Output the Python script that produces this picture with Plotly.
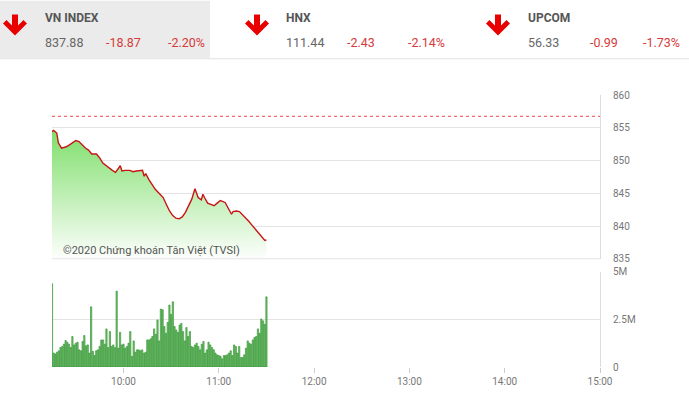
import plotly.graph_objects as go
from plotly.subplots import make_subplots
import pandas as pd

DAY = "2020-01-01 "

# ---------------- data ----------------
line_times = ["09:15", "09:16", "09:18", "09:19", "09:21", "09:24", "09:26", "09:28", "09:30",
              "09:32", "09:34", "09:36", "09:38", "09:40", "09:43", "09:45", "09:47", "09:49",
              "09:51", "09:53", "09:55", "09:57", "09:58", "09:59", "10:01", "10:04", "10:06",
              "10:08", "10:10", "10:12", "10:13", "10:14", "10:16", "10:18", "10:20", "10:23",
              "10:25", "10:27", "10:29", "10:31", "10:33", "10:35", "10:37", "10:39", "10:41",
              "10:43", "10:45", "10:46", "10:47", "10:49", "10:50", "10:51", "10:53", "10:55",
              "10:57", "10:59", "11:01", "11:04", "11:06", "11:08", "11:09", "11:11", "11:13",
              "11:15", "11:17", "11:19", "11:21", "11:24", "11:26", "11:28", "11:29", "11:30"]
line_values = [854.4, 854.6, 854.2, 852.7, 851.9, 852.1, 852.4, 852.75, 853.05,
               852.9, 852.4, 851.9, 851.6, 851.0, 851.0, 850.4, 849.6, 849.2,
               848.9, 848.5, 848.2, 848.9, 849.2, 848.4, 848.5, 848.5, 848.3,
               848.4, 848.5, 848.5, 847.6, 848.0, 847.1, 846.4, 845.6, 844.85,
               844.35, 843.3, 842.3, 841.6, 841.2, 841.1, 841.4, 842.1, 843.1,
               844.1, 845.7, 845.1, 844.35, 844.0, 844.85, 844.35, 843.5, 843.3,
               843.1, 843.5, 843.9, 843.6, 842.8, 841.8, 842.2, 842.3, 842.2,
               841.7, 841.3, 840.7, 840.1, 839.3, 838.65, 838.15, 837.8, 837.88]
prev_close = 856.75

volumes_m = [4.37, 0.73, 0.68, 0.78, 0.85, 1.02, 1.08, 1.2, 1.39, 1.3, 1.2, 1.02, 1.6, 1.16,
             1.25, 1.3, 0.9, 0.85, 1.34, 1.65, 1.11, 1.16, 0.73, 3.16, 0.82, 0.6, 0.85, 0.9,
             1.08, 1.42, 1.42, 1.2, 2.0, 1.02, 1.86, 1.08, 1.16, 1.02, 3.98, 0.99, 1.82, 1.16,
             1.2, 0.99, 1.08, 1.25, 1.86, 0.56, 1.37, 0.78, 0.9, 0.9, 0.85, 0.9, 0.73, 0.78,
             1.42, 1.42, 1.48, 1.6, 2.0, 1.72, 2.47,
             1.37, 3.04, 3.0, 2.12, 1.77, 2.34, 3.25, 2.76, 3.42, 2.12, 1.94, 1.82, 2.2, 2.29,
             1.86, 1.37, 2.07, 1.6, 1.86, 1.08, 1.02, 1.16, 1.25, 1.08, 0.9, 1.2, 1.34, 0.73,
             0.9, 1.3, 1.16, 1.02, 0.9, 0.73, 0.64, 0.6, 0.56, 0.43, 0.6, 0.6, 0.64, 0.73,
             0.85, 0.6, 1.16, 1.08, 0.73, 1.08, 0.5, 0.5, 0.64, 0.99, 1.37, 1.25, 1.2, 1.42,
             1.55, 1.6, 2.0, 1.77, 2.52, 2.42, 2.24, 3.68]
vol_start, vol_end = "09:15", "11:30"

price_ticks = [835, 840, 845, 850, 855, 860]
vol_ticks = [0, 2.5, 5]
vol_tick_text = ["0", "2.5M", "5M"]
time_ticks = ["10:00", "11:00", "12:00", "13:00", "14:00", "15:00"]
axis_start, axis_end = "09:15", "15:00"

indices = [
    # name, value, change, percent
    ("VN INDEX", "837.88", "-18.87", "-2.20%"),
    ("HNX", "111.44", "-2.43", "-2.14%"),
    ("UPCOM", "56.33", "-0.99", "-1.73%"),
]
watermark = "©2020 Chứng khoán Tân Việt (TVSI)"

# ---------------- figure ----------------
W, H = 689, 399
L, R, T, B = 52, 89, 95, 30
PW, PH = W - L - R, H - T - B


def px(x):
    return (x - L) / PW


def py(y):
    return (H - B - y) / PH


lt = pd.to_datetime([DAY + t for t in line_times])
vt = pd.date_range(DAY + vol_start, DAY + vol_end, periods=len(volumes_m))
step_ms = (vt[1] - vt[0]).total_seconds() * 1000

fig = make_subplots(rows=2, cols=1, shared_xaxes=True, vertical_spacing=0,
                    row_heights=[0.6, 0.4])

fig.add_trace(go.Scatter(
    x=lt, y=line_values, mode="lines",
    line=dict(color="rgb(200,20,20)", width=1.4),
    fill="tozeroy",
    fillgradient=dict(type="vertical", start=835, stop=855,
                      colorscale=[[0, "rgba(255,255,255,1)"], [1, "rgb(125,222,105)"]]),
    hoverinfo="skip", showlegend=False), row=1, col=1)

fig.add_trace(go.Scatter(
    x=pd.to_datetime([DAY + axis_start, DAY + axis_end]), y=[prev_close, prev_close],
    mode="lines", line=dict(color="rgb(235,70,70)", width=1, dash="dot"),
    hoverinfo="skip", showlegend=False), row=1, col=1)

fig.add_trace(go.Bar(
    x=vt, y=volumes_m, width=step_ms * 0.75,
    marker=dict(color="rgb(120,200,115)", line=dict(color="rgb(40,140,40)", width=0.6)),
    hoverinfo="skip", showlegend=False), row=2, col=1)

grid = "#e4e4e4"
tickfont = dict(family="Roboto", size=10, color="#777")
xr = [DAY + axis_start, DAY + axis_end]

fig.update_xaxes(range=xr, showgrid=False, zeroline=False, showline=False,
                 showticklabels=False, row=1, col=1)
fig.update_xaxes(range=xr, showgrid=False, zeroline=False, showline=False,
                 tickvals=[DAY + t for t in time_ticks], ticktext=time_ticks,
                 ticks="outside", ticklen=5, tickcolor="#cccccc", tickfont=tickfont,
                 row=2, col=1)

fig.update_yaxes(range=[835, 860], tickvals=price_ticks, side="right",
                 showgrid=True, gridcolor=grid, zeroline=False,
                 showline=True, linecolor="#dcdcdc", mirror=False,
                 ticklabelstandoff=10, tickfont=tickfont, row=1, col=1)
fig.update_yaxes(range=[0, 5], tickvals=vol_ticks, ticktext=vol_tick_text, side="right",
                 showgrid=True, gridcolor=grid, zeroline=False,
                 showline=True, linecolor="#dcdcdc",
                 ticklabelstandoff=10, tickfont=tickfont, row=2, col=1)

# exact domains
fig.update_layout(
    yaxis=dict(domain=[py(260), 1]),
    yaxis2=dict(domain=[0, py(273)]),
)

shapes = []
# header background
shapes.append(dict(type="rect", xref="paper", yref="paper",
                   x0=px(0), x1=px(210), y0=py(58), y1=py(0),
                   fillcolor="#ebebeb", line_width=0, layer="below"))
shapes.append(dict(type="line", xref="paper", yref="paper",
                   x0=px(0), x1=px(689), y0=py(58.5), y1=py(58.5),
                   line=dict(color="#e2e2e2", width=1)))
# bottom frame of top panel
shapes.append(dict(type="line", xref="paper", yref="paper",
                   x0=0, x1=1, y0=py(260), y1=py(260), line=dict(color=grid, width=1)))


def arrow(cx):
    pts = [(cx - 3, 14), (cx + 3, 14), (cx + 3, 25), (cx + 8.5, 19.5), (cx + 12, 23),
           (cx, 35), (cx - 12, 23), (cx - 8.5, 19.5), (cx - 3, 25)]
    d = "M " + " L ".join(f"{px(x):.5f},{py(y):.5f}" for x, y in pts) + " Z"
    return dict(type="path", xref="paper", yref="paper", path=d,
                fillcolor="rgb(232,0,0)", line_width=0)


header_x = [(15, 43, 43, 104, 166), (257, 284, 284, 345, 406), (498, 526, 526, 588, 641)]
annotations = []
for (name, val, chg, pct), (ax_, nx, vx, cx_, px_) in zip(indices, header_x):
    shapes.append(arrow(ax_))
    annotations.append(dict(xref="paper", yref="paper", x=px(nx), y=py(17.5),
                            text=f"<b>{name}</b>", showarrow=False, xanchor="left",
                            yanchor="middle",
                            font=dict(family="Roboto", size=12, color="#555")))
    annotations.append(dict(xref="paper", yref="paper", x=px(vx), y=py(42.5),
                            text=val, showarrow=False, xanchor="left", yanchor="middle",
                            font=dict(family="Roboto", size=12.5, color="#666")))
    annotations.append(dict(xref="paper", yref="paper", x=px(cx_), y=py(42.5),
                            text=chg, showarrow=False, xanchor="left", yanchor="middle",
                            font=dict(family="Roboto", size=12.5, color="#d63a3a")))
    annotations.append(dict(xref="paper", yref="paper", x=px(px_), y=py(42.5),
                            text=pct, showarrow=False, xanchor="left", yanchor="middle",
                            font=dict(family="Roboto", size=12.5, color="#d63a3a")))

annotations.append(dict(xref="paper", yref="paper", x=px(61), y=py(251.5),
                        text=watermark, showarrow=False, xanchor="left", yanchor="middle",
                        font=dict(family="Roboto", size=11, color="#555")))

fig.update_layout(
    width=W, height=H,
    margin=dict(l=L, r=R, t=T, b=B),
    paper_bgcolor="white", plot_bgcolor="white",
    shapes=shapes, annotations=annotations,
    bargap=0.1, showlegend=False,
)

fig.write_html("out.html", config={"displayModeBar": False},
               post_script="document.body.style.margin='0';document.body.style.overflow='hidden';")
